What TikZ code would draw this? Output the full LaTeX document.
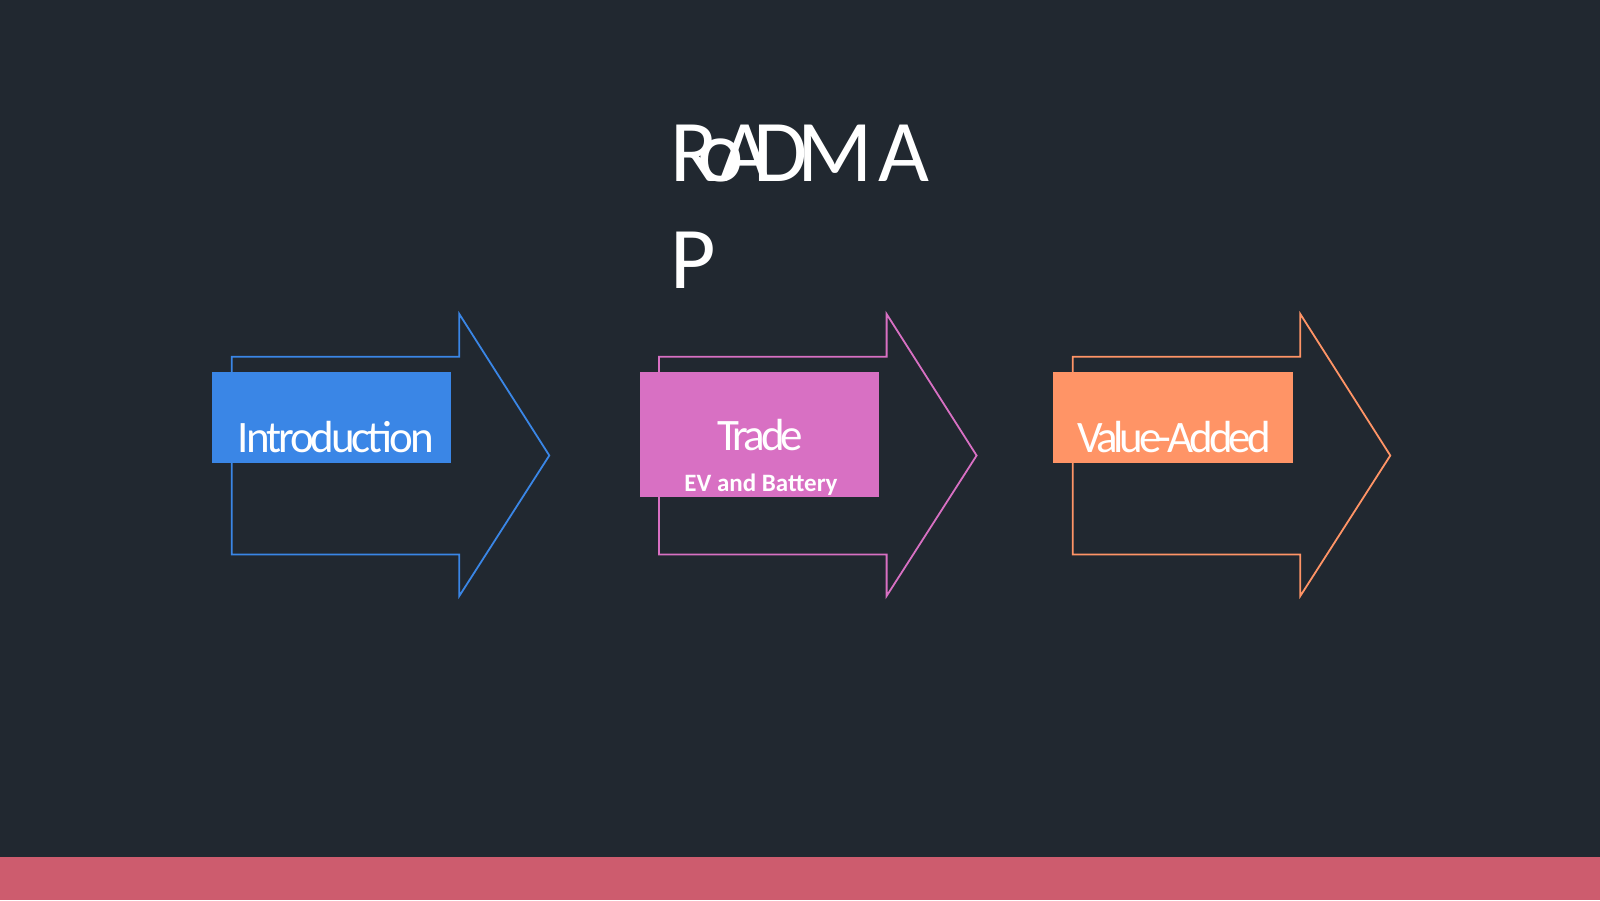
\documentclass[tikz,border=0pt]{standalone}
\usepackage{fontspec}
\setmainfont{Carlito}
\newfontfamily\titlefont{Carlito}
\newfontfamily\lblfont[LetterSpace=-9]{Carlito}
\newfontfamily\introfont[LetterSpace=-6.8]{Carlito}
\newfontfamily\subfont{Carlito}
\definecolor{bg}{HTML}{212830}
\definecolor{barc}{HTML}{CD5C6E}
\definecolor{cblue}{HTML}{3A86E6}
\definecolor{cpink}{HTML}{D870C3}
\definecolor{corange}{HTML}{FF9466}
\tikzset{
  outline/.style={line width=1.8pt, line join=miter},
  labelbox/.style={rectangle, inner sep=0pt, draw=#1, fill=#1, line width=0.8pt},
  biglabel/.style={text=white, inner sep=0pt, anchor=base, font=\lblfont\fontsize{45}{54}\selectfont},
  sublabel/.style={text=white, inner sep=0pt, anchor=base, font=\subfont\bfseries\fontsize{25}{30}\selectfont},
  titletext/.style={text=white, inner sep=0pt, anchor=base west, font=\titlefont\fontsize{88}{100}\selectfont},
  roadarrow/.pic={
    \draw[pic actions] (0,356.7) -- (227.6,356.7) -- (227.6,314) -- (317.6,455.5)
      -- (227.6,596) -- (227.6,554.5) -- (0,554.5) -- cycle;
  }
}
\begin{document}
\begin{tikzpicture}[x=1pt,y=-1pt]
\fill[bg] (0,0) rectangle (1600,900);
\useasboundingbox (0,0) rectangle (1600,900);
\fill[barc] (0,857) rectangle (1600,900);
% title
\node[titletext] (title1) at (670.5,181) {R\kern-21pto\kern-24ptA\kern-17ptD\kern-10ptM\kern5ptA};
\node[titletext] (title2) at (670.5,288) {P};
% arrows
\pic[draw=cblue, outline] (arrow1) at (231.7,0) {roadarrow};
\pic[draw=cpink, outline] (arrow2) at (659,0) {roadarrow};
\pic[draw=corange, outline] (arrow3) at (1072.7,0) {roadarrow};
% boxes
\node[labelbox=cblue, minimum width=238.4pt, minimum height=89.7pt] (box1) at (331.5,417.2) {};
\node[labelbox=cpink, minimum width=238.7pt, minimum height=124.4pt] (box2) at (759.3,434.5) {};
\node[labelbox=corange, minimum width=239pt, minimum height=89.7pt] (box3) at (1172.8,417.2) {};
% labels
\node[biglabel, font=\introfont\fontsize{45}{54}\selectfont] (intro) at (336,452.7) {Introduction};
\node[biglabel] (trade) at (760.5,450) {Trade};
\node[sublabel] (ev) at (761,491.7) {EV and Battery};
\node[biglabel] (value) at (1174,452.7) {Value-Added};
\end{tikzpicture}
\end{document}
